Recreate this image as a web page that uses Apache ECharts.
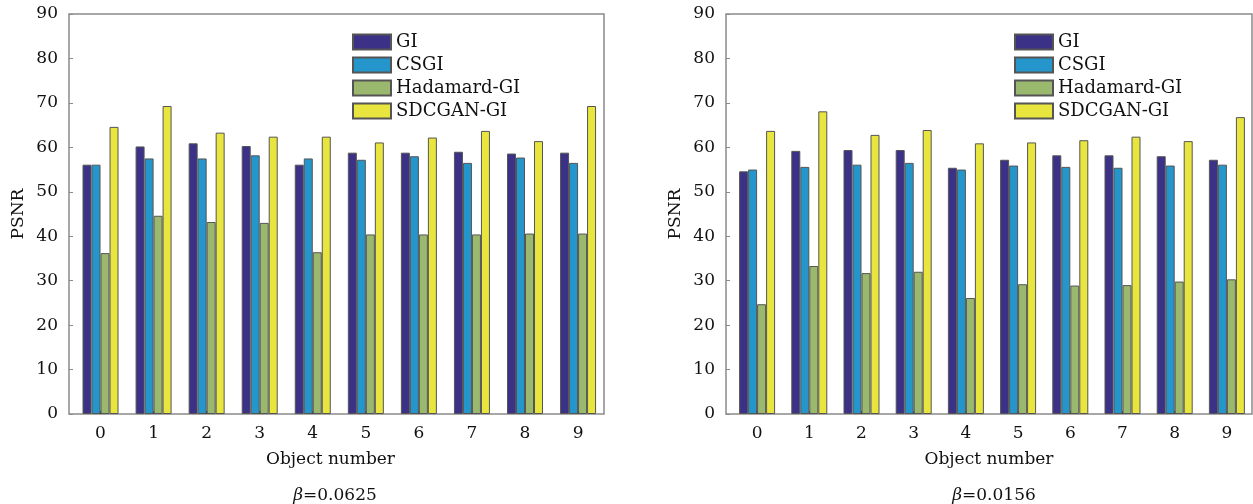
<!DOCTYPE html>
<html>
<head>
<meta charset="utf-8">
<script src="https://cdn.jsdelivr.net/npm/echarts@6/dist/echarts.min.js"></script>
<style>html,body{margin:0;padding:0;background:#fff}#c{width:1253px;height:504px}</style>
</head>
<body>
<div id="c"></div>
<script>
var categories = ['0','1','2','3','4','5','6','7','8','9'];
var seriesNames = ['GI','CSGI','Hadamard-GI','SDCGAN-GI'];
var yTicks = [0,10,20,30,40,50,60,70,80,90];
// beta = 0.0625
var giA   = [56.1, 60.2, 60.9, 60.3, 56.1, 58.8, 58.8, 59.0, 58.6, 58.8];
var csgiA = [56.1, 57.5, 57.5, 58.2, 57.5, 57.2, 58.0, 56.5, 57.7, 56.5];
var hadA  = [36.2, 44.6, 43.2, 43.0, 36.4, 40.4, 40.4, 40.4, 40.6, 40.6];
var sdA   = [64.6, 69.3, 63.3, 62.4, 62.4, 61.1, 62.2, 63.7, 61.4, 69.3];
// beta = 0.0156
var giB   = [54.6, 59.2, 59.4, 59.4, 55.4, 57.2, 58.2, 58.2, 58.0, 57.2];
var csgiB = [55.0, 55.6, 56.1, 56.5, 55.0, 55.9, 55.6, 55.4, 55.9, 56.1];
var hadB  = [24.7, 33.3, 31.7, 32.0, 26.1, 29.2, 28.9, 29.0, 29.8, 30.3];
var sdB   = [63.7, 68.1, 62.8, 63.9, 60.9, 61.1, 61.6, 62.4, 61.4, 66.8];
var betaLabels = ['0.0625','0.0156'];

var colors = ['#3b3187','#2596cb','#9bb86f','#e8e63e'];
var FONT = 'DejaVu Serif';
var TXT = '#111';

var chart = echarts.init(document.getElementById('c'));

function frameGrid(left, width) {
  return {left: left, top: 14, width: width, height: 400, show: true,
    borderColor: '#8a8a8a', borderWidth: 1.5, backgroundColor: 'transparent'};
}
function barGrid(left, width) {
  return {left: left, top: 14, width: width, height: 400};
}
function frameX(gi, pad) {
  return {type: 'value', gridIndex: gi, min: 0, max: 1,
    axisLine: {show: false}, axisTick: {show: false}, axisLabel: {show: false}, splitLine: {show: false},
    name: 'Object number', nameLocation: 'middle', nameGap: 37,
    nameTextStyle: {fontFamily: FONT, fontSize: 17, color: TXT, padding: pad}};
}
function catX(gi) {
  return {type: 'category', gridIndex: gi, data: categories,
    axisLine: {show: false},
    axisTick: {show: true, inside: true, length: 3, alignWithLabel: true, lineStyle: {color: '#000', width: 1.5}},
    axisLabel: {fontFamily: FONT, fontSize: 17, color: TXT, margin: 11},
    splitLine: {show: false}};
}
function frameY(gi) {
  return {type: 'value', gridIndex: gi, min: yTicks[0], max: yTicks[yTicks.length-1], interval: yTicks[1]-yTicks[0],
    axisLine: {show: false},
    axisTick: {show: true, inside: true, length: 4, lineStyle: {color: '#8a8a8a'}},
    axisLabel: {fontFamily: FONT, fontSize: 17, color: TXT, margin: 11},
    splitLine: {show: false},
    name: 'PSNR', nameLocation: 'middle', nameGap: 42,
    nameTextStyle: {fontFamily: FONT, fontSize: 17, color: TXT}};
}
function hiddenY(gi) {
  return {type: 'value', gridIndex: gi, min: yTicks[0], max: yTicks[yTicks.length-1], show: false, splitLine: {show: false}};
}
function bars(dataSets, axisIdx) {
  return dataSets.map(function (d, i) {
    return {type: 'bar', name: seriesNames[i], data: d, xAxisIndex: axisIdx, yAxisIndex: axisIdx,
      barWidth: 9, barGap: '0%', silent: true,
      itemStyle: {color: colors[i], borderColor: '#555', borderWidth: 1}};
  });
}
function legend(left) {
  return {data: seriesNames, orient: 'vertical', left: left, top: 33, padding: 0, icon: 'rect',
    itemWidth: 38, itemHeight: 15, itemGap: 5, selectedMode: false,
    textStyle: {fontFamily: FONT, fontSize: 18, color: TXT}};
}
function betaTitle(x, label) {
  return {text: '{b|β}=' + label, left: x, top: 482, textAlign: 'center',
    textStyle: {fontFamily: FONT, fontSize: 17, fontWeight: 'normal', color: TXT,
      rich: {b: {fontFamily: FONT, fontSize: 17, fontStyle: 'italic', color: TXT}}}};
}

chart.setOption({
  animation: false,
  color: colors,
  grid: [frameGrid(69, 535), barGrid(74, 530.6), frameGrid(726, 526), barGrid(731, 522)],
  xAxis: [frameX(0, [0, 12, 0, 0]), catX(1), frameX(2, [0, 0, 0, 0]), catX(3)],
  yAxis: [frameY(0), hiddenY(1), frameY(2), hiddenY(3)],
  legend: [legend(352), legend(1014)],
  title: [betaTitle(330, betaLabels[0]), betaTitle(989, betaLabels[1])],
  series: bars([giA, csgiA, hadA, sdA], 1).concat(bars([giB, csgiB, hadB, sdB], 3))
});
</script>
</body>
</html>
